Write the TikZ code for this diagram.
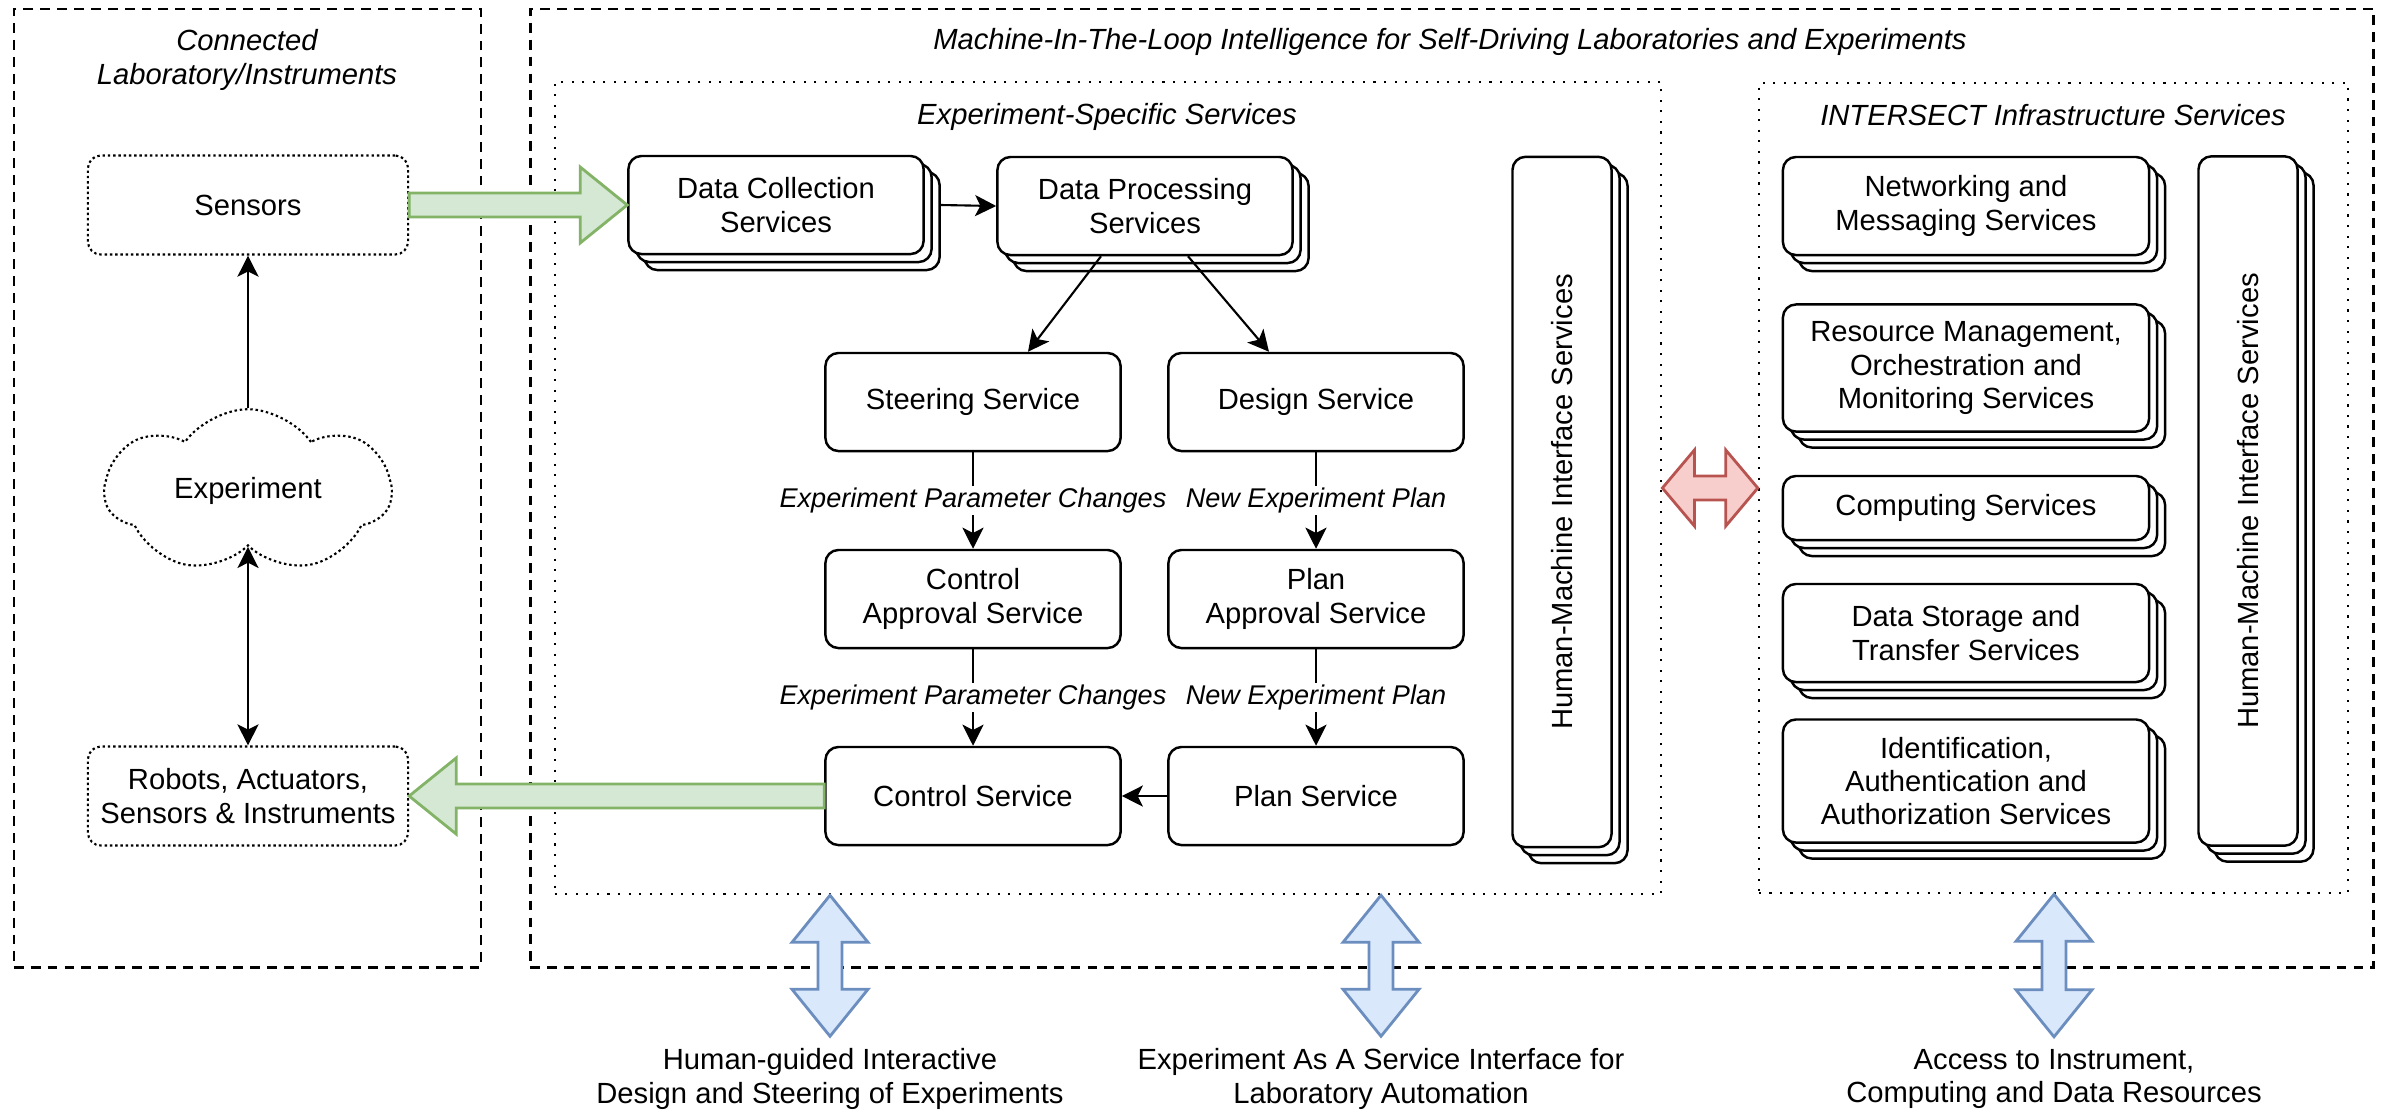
\documentclass[tikz,border=0pt]{standalone}
\usepackage{fontspec}
\setmainfont{Liberation Sans}
\usetikzlibrary{arrows.meta}
\usetikzlibrary{shapes.symbols}
\usetikzlibrary{shadows}
\usetikzlibrary{calc}
\definecolor{arrgreen}{HTML}{82B366}
\definecolor{fillgreen}{HTML}{D5E8D4}
\definecolor{arrred}{HTML}{B85450}
\definecolor{fillred}{HTML}{F8CECC}
\definecolor{arrblue}{HTML}{6C8EBF}
\definecolor{fillblue}{HTML}{DAE8FC}
\newcommand{\diagfont}{\fontsize{8.3}{9.5}\selectfont}
% fat arrows drawn as outlines
\newcommand{\blockarrow}[3]{% style, tail, tip
  \path[#1] let \p1=(#2), \p2=(#3), \n1={sign(\x2-\x1)} in
    ({\x1},{\y1+0.12cm}) -- ({\x2-(\n1)*0.47cm},{\y1+0.12cm}) -- ({\x2-(\n1)*0.47cm},{\y1+0.38cm})
    -- (\x2,\y1) -- ({\x2-(\n1)*0.47cm},{\y1-0.38cm}) -- ({\x2-(\n1)*0.47cm},{\y1-0.12cm})
    -- ({\x1},{\y1-0.12cm}) -- cycle;}
\newcommand{\dblarrowh}[3]{% style, left tip, right tip
  \path[#1] let \p1=(#2), \p2=(#3) in
    (\x1,\y1) -- ({\x1+0.32cm},{\y1+0.38cm}) -- ({\x1+0.32cm},{\y1+0.12cm}) -- ({\x2-0.32cm},{\y1+0.12cm})
    -- ({\x2-0.32cm},{\y1+0.38cm}) -- (\x2,\y1) -- ({\x2-0.32cm},{\y1-0.38cm}) -- ({\x2-0.32cm},{\y1-0.12cm})
    -- ({\x1+0.32cm},{\y1-0.12cm}) -- ({\x1+0.32cm},{\y1-0.38cm}) -- cycle;}
\newcommand{\dblarrowv}[3]{% style, top tip, bottom tip
  \path[#1] let \p1=(#2), \p2=(#3) in
    (\x1,\y1) -- ({\x1+0.38cm},{\y1-0.47cm}) -- ({\x1+0.12cm},{\y1-0.47cm}) -- ({\x1+0.12cm},{\y2+0.47cm})
    -- ({\x1+0.38cm},{\y2+0.47cm}) -- (\x1,\y2) -- ({\x1-0.38cm},{\y2+0.47cm}) -- ({\x1-0.12cm},{\y2+0.47cm})
    -- ({\x1-0.12cm},{\y1-0.47cm}) -- ({\x1-0.38cm},{\y1-0.47cm}) -- cycle;}
\tikzset{
 svc/.style={draw, line width=0.7pt, rounded corners=0.13cm, fill=white,
   align=center, inner sep=0pt, font=\diagfont},
 stack/.style={general shadow={shadow xshift=0.16cm, shadow yshift=-0.16cm,
     fill=white, draw=black, line width=0.7pt},
   general shadow={shadow xshift=0.08cm, shadow yshift=-0.08cm,
     fill=white, draw=black, line width=0.7pt}},
 lab/.style={draw, line width=0.6pt, dash pattern=on 0.7pt off 0.8pt,
   rounded corners=0.13cm, align=center, font=\diagfont},
 outer/.style={draw, line width=0.7pt, dash pattern=on 2.8pt off 2pt},
 group/.style={draw, line width=0.6pt, dash pattern=on 0.6pt off 2.4pt},
 title/.style={font=\diagfont\itshape, align=center},
 caption/.style={font=\diagfont, align=center},
 lbl/.style={font=\fontsize{7.7}{9}\selectfont\itshape, fill=white, inner xsep=0.5pt, inner ysep=0.5pt},
 arr/.style={line width=0.6pt, -{Stealth[length=6pt,width=6pt,inset=1.5pt]}},
 dblarr/.style={line width=0.6pt,
   {Stealth[length=6pt,width=6pt,inset=1.5pt]}-{Stealth[length=6pt,width=6pt,inset=1.5pt]}},
 greenarr/.style={draw=arrgreen, fill=fillgreen, line width=0.8pt},
 redarr/.style={draw=arrred, fill=fillred, line width=0.8pt},
 bluearr/.style={draw=arrblue, fill=fillblue, line width=0.8pt},
}

\begin{document}
\begin{tikzpicture}[x=0.01cm, y=-0.01cm]
    \useasboundingbox (0,0) rectangle (2381,1114);
    % frames
    \node[outer, minimum width=4.67cm, minimum height=9.58cm] (labframe) at (247.5,488) {};
    \node[outer, minimum width=18.42cm, minimum height=9.58cm] (mitl) at (1452,488) {};
    \node[group, minimum width=11.06cm, minimum height=8.12cm] (esbox) at (1108,488) {};
    \node[group, minimum width=5.89cm, minimum height=8.1cm] (infbox) at (2053.5,488) {};
    \node[title] (labtitle) at (247,60) {Connected\\Laboratory/Instruments};
    \node[title] (mitltitle) at (1450,42) {Machine-In-The-Loop Intelligence for Self-Driving Laboratories and Experiments};
    \node[title] (estitle) at (1107,117) {Experiment-Specific Services};
    \node[title] (inftitle) at (2053,115) {INTERSECT Infrastructure Services};

    % laboratory side
    \node[lab, minimum width=3.2cm, minimum height=0.99cm] (sens) at (248,205) {Sensors};
    \node[cloud, cloud puffs=7, cloud puff arc=110, aspect=2, draw, line width=0.6pt, dash pattern=on 0.7pt off 0.8pt,
      minimum width=2.86cm, minimum height=1.49cm, font=\diagfont] (exp) at (248,491) {Experiment};
    \node[lab, minimum width=3.2cm, minimum height=0.99cm] (robots) at (248,796) {Robots, Actuators,\\Sensors \& Instruments};

    % experiment-specific services
    \node[svc, stack, minimum width=2.95cm, minimum height=0.98cm] (dc) at (776,205) {Data Collection\\Services};
    \node[svc, stack, minimum width=2.95cm, minimum height=0.98cm] (dp) at (1145,206) {Data Processing\\Services};
    \node[svc, minimum width=2.95cm, minimum height=0.98cm] (steer) at (973,402) {Steering Service};
    \node[svc, minimum width=2.95cm, minimum height=0.98cm] (design) at (1316,402) {Design Service};
    \node[svc, minimum width=2.95cm, minimum height=0.98cm] (capp) at (973,599) {Control\\Approval Service};
    \node[svc, minimum width=2.95cm, minimum height=0.98cm] (papp) at (1316,599) {Plan\\Approval Service};
    \node[svc, minimum width=2.95cm, minimum height=0.98cm] (ctrl) at (973,796) {Control Service};
    \node[svc, minimum width=2.95cm, minimum height=0.98cm] (plan) at (1316,796) {Plan Service};
    \node[svc, stack, minimum width=0.99cm, minimum height=6.9cm] (hmia) at (1562,502) {\rotatebox{90}{Human-Machine Interface Services}};

    % infrastructure services
    \node[svc, stack, minimum width=3.66cm, minimum height=0.98cm] (net) at (1966,206) {Networking and\\Messaging Services};
    \node[svc, stack, minimum width=3.66cm, minimum height=1.27cm] (res) at (1966,368) {Resource Management,\\Orchestration and\\Monitoring Services};
    \node[svc, stack, minimum width=3.66cm, minimum height=0.64cm] (comp) at (1966,508) {Computing Services};
    \node[svc, stack, minimum width=3.66cm, minimum height=0.98cm] (stor) at (1966,633) {Data Storage and\\Transfer Services};
    \node[svc, stack, minimum width=3.66cm, minimum height=1.23cm] (ident) at (1966,781) {Identification,\\Authentication and\\Authorization Services};
    \node[svc, stack, minimum width=0.99cm, minimum height=6.89cm] (hmib) at (2248,501) {\rotatebox{90}{Human-Machine Interface Services}};

    % access points
    \node[caption] (guide) at (830,1079) {Human-guided Interactive\\Design and Steering of Experiments};
    \node[caption] (eaas) at (1381,1079) {Experiment As A Service Interface for\\Laboratory Automation};
    \node[caption] (access) at (2054,1079) {Access to Instrument,\\Computing and Data Resources};

    % connectors
    \draw[arr] (exp.north) -- (sens.south);
    \draw[dblarr] (exp.south) -- (robots.north);
    \draw[arr] ($(dc.east)+(16,0)$) -- (dp.west);
    \draw[arr] ($(dp.south)+(-44,0)$) -- ($(steer.north)+(55,0)$);
    \draw[arr] ($(dp.south)+(43,0)$) -- ($(design.north)+(-47,0)$);
    \draw[arr] (steer) -- node[lbl] (lblsa) {Experiment Parameter Changes} (capp);
    \draw[arr] (design) -- node[lbl] (lblda) {New Experiment Plan} (papp);
    \draw[arr] (capp) -- node[lbl] (lblac) {Experiment Parameter Changes} (ctrl);
    \draw[arr] (papp) -- node[lbl] (lblap) {New Experiment Plan} (plan);
    \draw[arr] (plan) -- (ctrl);

    \blockarrow{greenarr}{sens.east}{dc.west}
    \blockarrow{greenarr}{ctrl.west}{robots.east}
    \dblarrowh{redarr}{esbox.east}{infbox.west}
    \dblarrowv{bluearr}{guide.north |- esbox.south}{guide.north}
    \dblarrowv{bluearr}{eaas.north |- esbox.south}{eaas.north}
    \dblarrowv{bluearr}{access.north |- infbox.south}{access.north}
\end{tikzpicture}
\end{document}
